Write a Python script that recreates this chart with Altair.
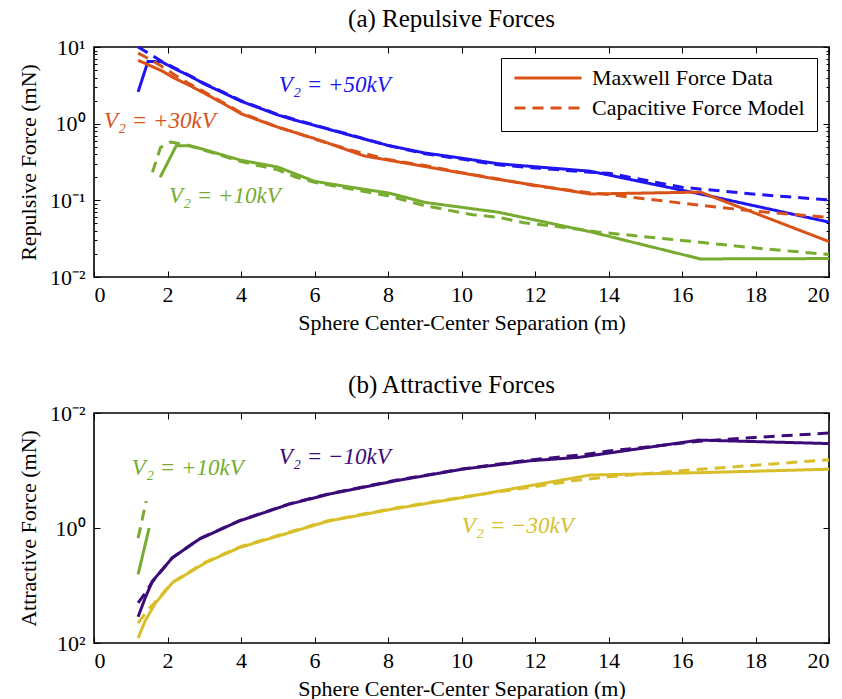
import altair as alt
import pandas as pd

FONT = "Liberation Serif"
BLUE, ORANGE, GREEN = "#2015F0", "#D95319", "#77AC30"
PURPLE, YELLOW = "#3B0B78", "#D8BF2A"

KINDS = ["Maxwell Force Data", "Capacitive Force Model"]
X_TICKS = [0, 2, 4, 6, 8, 10, 12, 14, 16, 18, 20]

# ---------------- (a) repulsive forces ----------------
p50_max_x = [1.2, 1.47, 1.84, 2.2, 2.6, 3.0, 3.5, 4.0, 4.5, 5.0, 5.5, 6.0, 7.0, 8.0, 9.0, 10.0, 11.0, 13.5, 16.5, 20.0]
p50_max_y = [2.6, 6.5, 6.4, 5.2, 4.2, 3.3, 2.55, 1.96, 1.6, 1.3, 1.1, 0.95, 0.7, 0.52, 0.415, 0.355, 0.30, 0.24, 0.121, 0.052]
p50_cap_x = [1.2, 1.52, 1.84, 2.2, 2.6, 3.0, 3.5, 4.0, 4.5, 5.0, 5.5, 6.0, 7.0, 8.0, 9.0, 10.0, 11.0, 12.0, 13.5, 14.0, 16.0, 18.0, 20.0]
p50_cap_y = [10.0, 8.1, 6.5, 5.3, 4.25, 3.35, 2.6, 2.0, 1.62, 1.32, 1.12, 0.96, 0.71, 0.52, 0.405, 0.345, 0.29, 0.265, 0.232, 0.226, 0.148, 0.12, 0.101]

p30_max_x = [1.2, 1.5, 1.84, 2.2, 2.6, 3.0, 3.5, 4.0, 4.5, 5.0, 5.5, 6.0, 6.4, 7.35, 9.12, 10.93, 13.5, 16.5, 20.0]
p30_max_y = [6.7, 5.8, 4.9, 3.9, 3.15, 2.5, 1.85, 1.35, 1.1, 0.9, 0.76, 0.64, 0.55, 0.38, 0.27, 0.19, 0.121, 0.128, 0.029]
p30_cap_x = [1.2, 1.5, 1.84, 2.2, 2.6, 3.0, 3.5, 4.0, 4.5, 5.0, 5.5, 6.0, 7.0, 8.0, 9.0, 10.0, 11.0, 12.0, 13.5, 14.0, 16.0, 18.0, 20.0]
p30_cap_y = [8.3, 7.0, 5.6, 4.3, 3.3, 2.6, 1.9, 1.38, 1.12, 0.9, 0.76, 0.63, 0.45, 0.34, 0.285, 0.23, 0.19, 0.155, 0.125, 0.119, 0.092, 0.072, 0.060]

p10_max_x = [1.8, 2.24, 2.59, 3.0, 3.5, 4.0, 5.0, 6.0, 7.0, 8.0, 9.0, 11.0, 13.5, 16.5, 20.0]
p10_max_y = [0.2, 0.517, 0.517, 0.46, 0.39, 0.333, 0.272, 0.177, 0.148, 0.125, 0.094, 0.070, 0.039, 0.0172, 0.0174]
p10_cap_x = [1.59, 1.81, 2.09, 2.5, 3.0, 3.5, 4.0, 5.0, 5.5, 6.0, 7.0, 8.0, 9.0, 10.3, 11.0, 11.7, 13.2, 13.7, 16.0, 18.0, 20.0]
p10_cap_y = [0.232, 0.49, 0.577, 0.53, 0.45, 0.38, 0.32, 0.25, 0.2, 0.172, 0.14, 0.115, 0.085, 0.065, 0.060, 0.051, 0.042, 0.0387, 0.030, 0.0239, 0.0196]

rep_series = ["+50kV", "+30kV", "+10kV"]
rep_colors = [BLUE, ORANGE, GREEN]
rep_label_text = ["V₂ = +50kV", "V₂ = +30kV", "V₂ = +10kV"]
rep_label_x = [5.03, 0.27, 2.04]
rep_label_y = [3.16, 1.07, 0.113]

# ---------------- (b) attractive forces ----------------
a10_max_x = [1.2, 1.5]
a10_max_y = [6.4, 1.0]
a10_cap_x = [1.2, 1.42]
a10_cap_y = [1.5, 0.34]

n10_max_x = [1.2, 1.4, 1.59, 2.13, 2.86, 3.95, 5.31, 6.39, 8.21, 10.02, 11.84, 13.2, 16.46, 20.0]
n10_max_y = [35.0, 16.0, 8.4, 3.3, 1.57, 0.755, 0.386, 0.258, 0.151, 0.095, 0.068, 0.059, 0.0296, 0.034]
n10_cap_x = [1.2, 1.4, 1.59, 2.13, 2.86, 3.95, 5.31, 6.39, 8.21, 10.02, 11.84, 13.2, 14.0, 16.46, 18.0, 20.0]
n10_cap_y = [20.0, 13.4, 8.6, 3.3, 1.55, 0.75, 0.38, 0.255, 0.148, 0.094, 0.066, 0.054, 0.046, 0.031, 0.0266, 0.0223]

n30_max_x = [1.2, 1.4, 1.68, 2.13, 3.04, 3.95, 5.31, 6.39, 8.2, 10.02, 13.5, 16.5, 20.0]
n30_max_y = [82.0, 40.0, 20.0, 9.0, 4.0, 2.2, 1.21, 0.755, 0.46, 0.296, 0.12, 0.109, 0.095]
n30_cap_x = [1.2, 1.5, 1.68, 2.13, 3.04, 3.95, 5.31, 6.39, 8.2, 10.02, 12.0, 13.2, 14.0, 16.5, 18.0, 20.0]
n30_cap_y = [45.0, 25.0, 19.0, 8.8, 3.9, 2.15, 1.18, 0.74, 0.45, 0.29, 0.19, 0.146, 0.129, 0.095, 0.081, 0.065]

att_series = ["+10kV", "-10kV", "-30kV"]
att_colors = [GREEN, PURPLE, YELLOW]
att_label_text = ["V₂ = +10kV", "V₂ = −10kV", "V₂ = −30kV"]
att_label_x = [1.03, 5.03, 10.01]
att_label_y = [0.09, 0.0578, 0.923]


def frame(series_list):
    rows = []
    for name, kind, xs, ys in series_list:
        for x, y in zip(xs, ys):
            rows.append({"x": x, "y": y, "series": name, "kind": kind})
    return pd.DataFrame(rows)


rep_df = frame([
    ("+50kV", KINDS[0], p50_max_x, p50_max_y), ("+50kV", KINDS[1], p50_cap_x, p50_cap_y),
    ("+30kV", KINDS[0], p30_max_x, p30_max_y), ("+30kV", KINDS[1], p30_cap_x, p30_cap_y),
    ("+10kV", KINDS[0], p10_max_x, p10_max_y), ("+10kV", KINDS[1], p10_cap_x, p10_cap_y),
])
att_df = frame([
    ("+10kV", KINDS[0], a10_max_x, a10_max_y), ("+10kV", KINDS[1], a10_cap_x, a10_cap_y),
    ("-10kV", KINDS[0], n10_max_x, n10_max_y), ("-10kV", KINDS[1], n10_cap_x, n10_cap_y),
    ("-30kV", KINDS[0], n30_max_x, n30_max_y), ("-30kV", KINDS[1], n30_cap_x, n30_cap_y),
])
rep_txt = pd.DataFrame({"x": rep_label_x, "y": rep_label_y, "label": rep_label_text, "series": rep_series})
att_txt = pd.DataFrame({"x": att_label_x, "y": att_label_y, "label": att_label_text, "series": att_series})

XS = alt.Scale(domain=[0, 20], nice=False, zero=False)
LABEL_EXPR = "['10⁻²','10⁻¹','10⁰','10¹','10²'][round(log(datum.value)/LN10)+2]"


def panel(df, txt, yscale, series, colors, y_major, y_minor, ytitle, title, show_legend, xtitle_pad):
    cscale = alt.Scale(domain=series, range=colors)
    if show_legend:
        leg = alt.Legend(
            title=None, orient="none", legendX=407, legendY=11,
            strokeColor="black", fillColor="white", padding=12,
            symbolType="stroke", symbolSize=4489, symbolStrokeWidth=3,
            symbolStrokeColor=ORANGE, clipHeight=16, rowPadding=8,
            labelFont=FONT, labelFontSize=22, labelOffset=9, labelLimit=400,
            labelColor="black", cornerRadius=0,
        )
    else:
        leg = None
    dash = alt.StrokeDash("kind:N", scale=alt.Scale(domain=KINDS, range=[[1, 0], [11, 7]]), legend=leg)

    def lines(kind):
        return alt.Chart(df).transform_filter(alt.datum.kind == kind).mark_line(strokeWidth=3).encode(
            x=alt.X("x:Q", scale=XS, axis=None),
            y=alt.Y("y:Q", scale=yscale, axis=None),
            color=alt.Color("series:N", scale=cscale, legend=None),
            strokeDash=dash,
            detail="series:N",
        )

    texts = alt.Chart(txt).mark_text(
        align="left", baseline="middle", font=FONT, fontSize=23, fontStyle="italic"
    ).encode(
        x=alt.X("x:Q", scale=XS, axis=None),
        y=alt.Y("y:Q", scale=yscale, axis=None),
        text="label:N",
        color=alt.Color("series:N", scale=cscale, legend=None),
    )

    def ax(xaxis, yaxis):
        return alt.Chart(df).mark_point(opacity=0, size=1).encode(
            x=alt.X("x:Q", scale=XS, axis=xaxis),
            y=alt.Y("y:Q", scale=yscale, axis=yaxis),
        )

    axes = [
        ax(alt.Axis(orient="bottom", values=X_TICKS, format="d", tickSize=6, offset=-6,
                    labelPadding=7, title="Sphere Center-Center Separation (m)", titlePadding=xtitle_pad,
                    domain=False, grid=False), None),
        ax(alt.Axis(orient="top", values=X_TICKS, labels=False, tickSize=6, offset=-6,
                    title=None, domain=False, grid=False), None),
        ax(None, alt.Axis(orient="left", values=y_major, labelExpr=LABEL_EXPR, tickSize=6, offset=-6,
                          labelPadding=9, title=ytitle, titlePadding=9, domain=False, grid=False)),
        ax(None, alt.Axis(orient="right", values=y_major, labels=False, tickSize=6, offset=-6,
                          title=None, domain=False, grid=False)),
    ]
    if y_minor:
        axes += [
            ax(None, alt.Axis(orient="left", values=y_minor, labels=False, tickSize=3, offset=-3,
                              title=None, domain=False, grid=False)),
            ax(None, alt.Axis(orient="right", values=y_minor, labels=False, tickSize=3, offset=-3,
                              title=None, domain=False, grid=False)),
        ]

    return alt.layer(lines(KINDS[0]), lines(KINDS[1]), texts, *axes).resolve_axis(
        x="independent", y="independent"
    ).properties(
        width=735, height=230,
        title=alt.TitleParams(title, font=FONT, fontSize=25, fontWeight="normal",
                              anchor="middle", frame="group", offset=4, dx=-10, color="black"),
    )


rep_minor = [k * 10.0 ** d for d in (-2, -1, 0) for k in range(2, 10)]

top = panel(rep_df, rep_txt, alt.Scale(type="log", domain=[0.01, 10]), rep_series, rep_colors,
            [0.01, 0.1, 1, 10], rep_minor, "Repulsive Force (mN)", "(a) Repulsive Forces", True, 7)
bottom = panel(att_df, att_txt, alt.Scale(type="log", domain=[0.01, 100], reverse=True), att_series,
               att_colors, [0.01, 1, 100], None, "Attractive Force (mN)", "(b) Attractive Forces", False, 7)

chart = alt.vconcat(top, bottom, spacing=38).resolve_scale(
    color="independent", strokeDash="independent"
).resolve_legend(color="independent", strokeDash="independent").properties(
    padding={"left": 16, "top": 6, "right": 4, "bottom": 0}
).configure_view(
    stroke="black", strokeWidth=1.6
).configure_axis(
    labelFont=FONT, labelFontSize=22, titleFont=FONT, titleFontSize=22,
    titleFontWeight="normal", tickColor="black", labelColor="black", titleColor="black",
    tickWidth=1, grid=False,
)

chart.save("out.html", embed_options={"renderer": "svg", "actions": False})
